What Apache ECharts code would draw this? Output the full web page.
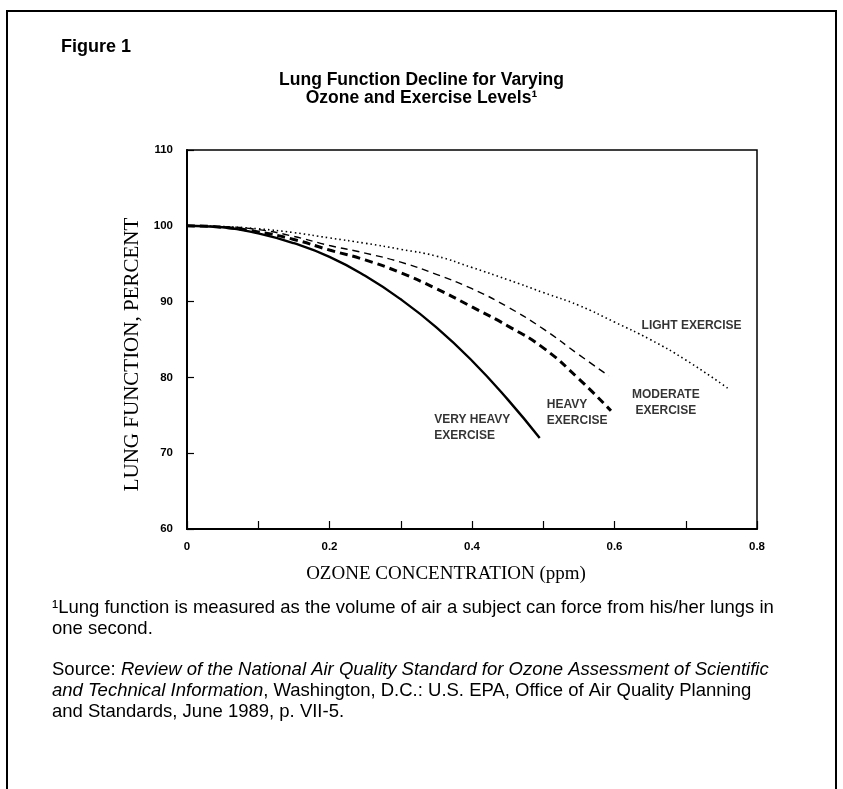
<!DOCTYPE html>
<html>
<head>
<meta charset="utf-8">
<script src="https://cdn.jsdelivr.net/npm/echarts@6/dist/echarts.min.js"></script>
<style>
html,body{margin:0;padding:0;background:#fff;}
#chart{width:843px;height:789px;}
</style>
</head>
<body>
<div id="chart"></div>
<script>
// ---- data ----
const veryHeavyX = [0, 0.05, 0.1, 0.15, 0.2, 0.25, 0.3, 0.35, 0.4, 0.45, 0.495];
const veryHeavyY = [100, 99.8, 99.0, 97.7, 95.9, 93.4, 90.3, 86.6, 82.2, 77.1, 72.0];

const heavyX = [0, 0.05, 0.1, 0.15, 0.2, 0.25, 0.3, 0.35, 0.4, 0.45, 0.5, 0.55, 0.595];
const heavyY = [100, 99.8, 99.2, 98.2, 96.8, 95.5, 93.8, 91.7, 89.3, 86.8, 83.9, 79.8, 75.6];

const moderateX = [0, 0.05, 0.1, 0.15, 0.2, 0.25, 0.3, 0.35, 0.4, 0.45, 0.5, 0.55, 0.592];
const moderateY = [100, 99.9, 99.5, 98.6, 97.4, 96.4, 95.2, 93.6, 91.7, 89.3, 86.4, 83.0, 80.2];

const lightX = [0, 0.05, 0.1, 0.15, 0.2, 0.25, 0.3, 0.35, 0.4, 0.45, 0.5, 0.55, 0.6, 0.65, 0.7, 0.76];
const lightY = [100, 99.9, 99.6, 99.1, 98.4, 97.7, 96.9, 96.0, 94.5, 92.9, 91.2, 89.5, 87.3, 85.0, 82.3, 78.5];

const xTickLabels = {0: '0', 2: '0.2', 4: '0.4', 6: '0.6', 8: '0.8'};
const yTickLabels = ['60', '70', '80', '90', '100', '110'];

const annText = ['LIGHT EXERCISE', 'MODERATE\nEXERCISE', 'HEAVY\nEXERCISE', 'VERY HEAVY\nEXERCISE'];
const annX = [0.638, 0.672, 0.505, 0.347];
const annY = [86.8, 76.7, 75.4, 73.4];
const annAlign = ['left', 'center', 'left', 'left'];

const zip = (xs, ys) => xs.map((x, i) => [x, ys[i]]);

const chart = echarts.init(document.getElementById('chart'), null, {renderer: 'canvas'});

const sans = '"Liberation Sans", Arial, sans-serif';
const serif = '"Liberation Serif", "Times New Roman", serif';

const lineBase = {type: 'line', smooth: true, symbol: 'none', silent: true, z: 3};

chart.setOption({
  animation: false,
  backgroundColor: '#fff',
  title: {
    text: 'Lung Function Decline for Varying\nOzone and Exercise Levels¹',
    left: 'center',
    top: 66,
    itemGap: 0,
    textStyle: {fontFamily: sans, fontSize: 17.5, fontWeight: 'bold', color: '#000', lineHeight: 18}
  },
  grid: {left: 187, top: 150, right: 86, bottom: 260, show: true, borderColor: '#000', borderWidth: 1.5, backgroundColor: 'transparent'},
  xAxis: {
    type: 'value', min: 0, max: 0.8, interval: 0.1,
    name: 'OZONE CONCENTRATION (ppm)',
    nameLocation: 'middle', nameGap: 36,
    nameTextStyle: {fontFamily: serif, fontSize: 19, color: '#000', padding: [0, 52, 0, 0]},
    axisLine: {show: true, lineStyle: {color: '#000', width: 2}},
    axisTick: {show: true, inside: true, length: 8, lineStyle: {color: '#000', width: 1.2}},
    splitLine: {show: false},
    axisLabel: {
      margin: 12, fontFamily: sans, fontSize: 11.5, fontWeight: 'bold', color: '#000',
      formatter: v => { const k = Math.round(v * 10); return xTickLabels[k] !== undefined ? xTickLabels[k] : ''; }
    }
  },
  yAxis: {
    type: 'value', min: 60, max: 110, interval: 10,
    name: 'LUNG FUNCTION, PERCENT',
    nameLocation: 'middle', nameGap: 34,
    nameTextStyle: {fontFamily: serif, fontSize: 21, color: '#000', padding: [0, 30, 0, 0]},
    axisLine: {show: true, lineStyle: {color: '#000', width: 2}},
    axisTick: {show: true, inside: true, length: 7, lineStyle: {color: '#000', width: 1.2}},
    splitLine: {show: false},
    axisLabel: {
      margin: 14, fontFamily: sans, fontSize: 11.5, fontWeight: 'bold', color: '#000',
      formatter: v => { const i = Math.round((v - 60) / 10); return yTickLabels[i] || ''; }
    }
  },
  series: [
    Object.assign({}, lineBase, {name: 'Very heavy exercise', data: zip(veryHeavyX, veryHeavyY),
      lineStyle: {color: '#000', width: 2.4, type: 'solid'}}),
    Object.assign({}, lineBase, {name: 'Heavy exercise', data: zip(heavyX, heavyY),
      lineStyle: {color: '#000', width: 3, type: [8, 5]}}),
    Object.assign({}, lineBase, {name: 'Moderate exercise', data: zip(moderateX, moderateY),
      lineStyle: {color: '#000', width: 1.4, type: [7, 5]}}),
    Object.assign({}, lineBase, {name: 'Light exercise', data: zip(lightX, lightY),
      lineStyle: {color: '#000', width: 1.6, type: [1.5, 3]}}),
    {
      type: 'scatter', name: 'labels', symbolSize: 0, silent: true, z: 4,
      data: annText.map((t, i) => ({
        value: [annX[i], annY[i]],
        label: {show: true, position: 'inside', formatter: t, align: annAlign[i], verticalAlign: 'middle',
          fontFamily: sans, fontSize: 12, fontWeight: 'bold', color: '#000', lineHeight: 16}
      }))
    }
  ],
  graphic: [
    {type: 'rect', silent: true, z: 0, shape: {x: 7, y: 11, width: 829, height: 800},
      style: {fill: 'none', stroke: '#000', lineWidth: 2}},
    {type: 'text', silent: true, style: {x: 61, y: 47, text: 'Figure 1', fontFamily: sans, fontSize: 18, fontWeight: 'bold', fill: '#000', verticalAlign: 'middle'}},
    {type: 'text', silent: true, style: {x: 52, y: 597.5,
      text: '¹Lung function is measured as the volume of air a subject can force from his/her lungs in\none second.',
      fontFamily: sans, fontSize: 18.5, fill: '#000', lineHeight: 21, verticalAlign: 'top'}},
    {type: 'text', silent: true, style: {x: 52, y: 659.5,
      text: 'Source: {i|Review of the National Air Quality Standard for Ozone Assessment of Scientific}\n{i|and Technical Information}, Washington, D.C.: U.S. EPA, Office of Air Quality Planning\nand Standards, June 1989, p. VII-5.',
      fontFamily: sans, fontSize: 18.5, fill: '#000', lineHeight: 21, verticalAlign: 'top',
      rich: {i: {fontFamily: sans, fontSize: 18.5, fontStyle: 'italic', fill: '#000', lineHeight: 21}}}}
  ]
});
</script>
</body>
</html>
